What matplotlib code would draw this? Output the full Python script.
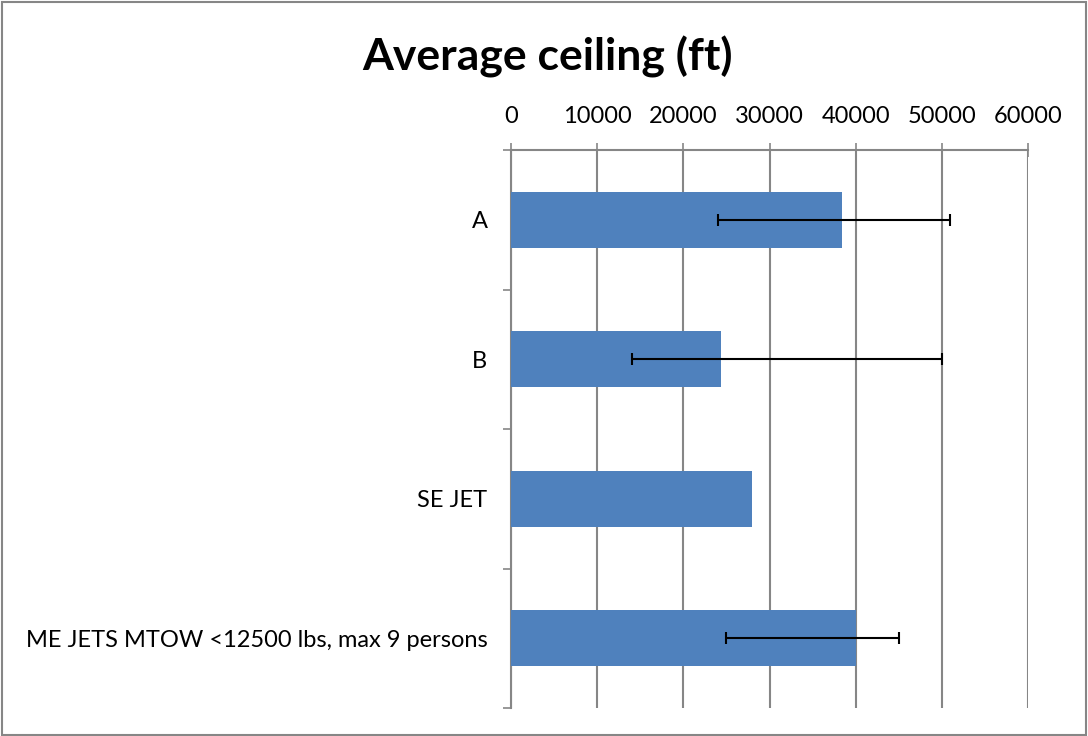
import matplotlib
matplotlib.use("Agg")
import matplotlib.pyplot as plt
from matplotlib.patches import Rectangle

plt.rcParams['font.family'] = ['Lato', 'DejaVu Sans']

# data
categories = ["A", "B", "SE JET", "ME JETS MTOW <12500 lbs, max 9 persons"]
avg_ceiling = [38450, 24400, 28000, 40000]
err_low = [23980, 14000, None, 25000]
err_high = [51000, 50000, None, 45000]
xticks = [0, 10000, 20000, 30000, 40000, 50000, 60000]

fig = plt.figure(figsize=(10.88, 7.36), dpi=100)
ax = fig.add_axes([0.4697, 0.038, 0.4752, 0.758])

pos = list(range(len(categories)))
ax.barh(pos, avg_ceiling, height=0.4, color='#4F81BD', zorder=3)

# error bars (asymmetric, only where given)
for p, v, lo, hi in zip(pos, avg_ceiling, err_low, err_high):
    if lo is None:
        continue
    ax.errorbar(v, p, xerr=[[v - lo], [hi - v]], fmt='none', ecolor='black',
                elinewidth=1.5, capsize=4.5, capthick=1.5, zorder=4)

ax.set_xlim(0, 60000)
ax.set_ylim(3.5, -0.5)
ax.set_xticks(xticks)
ax.set_xticklabels([str(t) for t in xticks], fontsize=17)
ax.xaxis.tick_top()
ax.tick_params(axis='x', direction='inout', length=10, width=1.2, color='#868686', pad=12)

# category labels centered, ticks on band boundaries
ax.set_yticks([-0.5, 0.5, 1.5, 2.5, 3.5])
ax.set_yticklabels([])
ax.set_yticks(pos, minor=True)
ax.set_yticklabels(categories, minor=True, fontsize=17)
ax.tick_params(axis='y', which='major', direction='out', length=6, width=1.2, color='#868686')
ax.tick_params(axis='y', which='minor', length=0, pad=17)

ax.grid(axis='x', color='#868686', linewidth=1.5, zorder=0)
for s in ['right', 'bottom']:
    ax.spines[s].set_visible(False)
for s in ['top', 'left']:
    ax.spines[s].set_color('#868686')
    ax.spines[s].set_linewidth(1.5)

fig.text(0.503, 0.922, "Average ceiling (ft)", ha='center', va='center',
         fontsize=32, fontweight='bold')

# chart area border
fig.patches.append(Rectangle((0.002, 0.002), 0.996, 0.995, transform=fig.transFigure,
                             fill=False, edgecolor='#868686', linewidth=1.5))

fig.savefig("out.png", dpi=100)
